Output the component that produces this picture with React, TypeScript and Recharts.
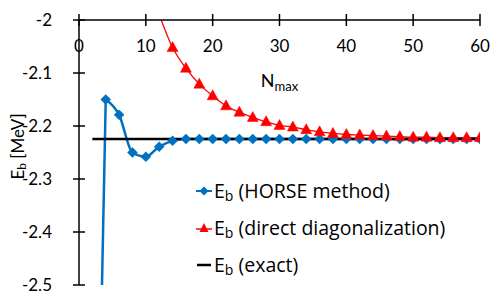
import React from 'react';
import { LineChart, Line, XAxis, YAxis, Legend, ReferenceDot } from 'recharts';

// N_max values and binding energies (MeV)
const horseLeadN = [2, 4];
const horseLeadE = [-3.4, -2.15];
const horseN = [4, 6, 8, 10, 12, 14, 16, 18, 20, 22, 24, 26, 28, 30, 32, 34, 36, 38, 40, 42, 44, 46, 48, 50, 52, 54, 56, 58, 60];
const horseE = [-2.15, -2.179, -2.25, -2.258, -2.239, -2.228, -2.2245, -2.2245, -2.2245, -2.2245, -2.2245, -2.2245, -2.2245, -2.2245, -2.2245, -2.2245, -2.2245, -2.2245, -2.2245, -2.2245, -2.2245, -2.2245, -2.2245, -2.2245, -2.2245, -2.2245, -2.2245, -2.2245, -2.2245];
const directN = [12, 14, 16, 18, 20, 22, 24, 26, 28, 30, 32, 34, 36, 38, 40, 42, 44, 46, 48, 50, 52, 54, 56, 58, 60];
const directE = [-1.99, -2.052, -2.091, -2.121, -2.143, -2.162, -2.174, -2.184, -2.192, -2.199, -2.202, -2.207, -2.211, -2.214, -2.216, -2.217, -2.218, -2.219, -2.22, -2.221, -2.221, -2.222, -2.222, -2.222, -2.222];
const exactN = [2, 60];
const exactE = [-2.2246, -2.2246];

const xTicks = [0, 10, 20, 30, 40, 50, 60];
const yTicks = [-2, -2.1, -2.2, -2.3, -2.4, -2.5];
const legendLabels = ['(HORSE method)', '(direct diagonalization)', '(exact)'];

const BLUE = '#0070C0';
const RED = '#FF0000';
const FONT = 'Lato, "Open Sans", sans-serif';
const LEGEND_FONT = '"Open Sans", Lato, sans-serif';

const zip = (ns: number[], es: number[]) => ns.map((n, i) => ({ n, e: es[i] }));
const horseLead = zip(horseLeadN, horseLeadE);
const horse = zip(horseN, horseE);
const direct = zip(directN, directE);
const exact = zip(exactN, exactE);

const Diamond = (props: any) => {
  const { cx, cy, key } = props;
  if (cx == null || cy == null) return <g key={key} />;
  return <polygon key={key} points={`${cx},${cy - 5} ${cx + 5},${cy} ${cx},${cy + 5} ${cx - 5},${cy}`} fill={BLUE} stroke={BLUE} strokeWidth={0.5} />;
};

const Triangle = (props: any) => {
  const { cx, cy, key } = props;
  if (cx == null || cy == null) return <g key={key} />;
  return <polygon key={key} points={`${cx},${cy - 6} ${cx + 5.5},${cy + 4} ${cx - 5.5},${cy + 4}`} fill={RED} stroke={RED} strokeWidth={0.5} />;
};

const XTick = (props: any) => {
  const { x, y, payload } = props;
  return (
    <g>
      <line x1={x} x2={x} y1={y - 6} y2={y + 6} stroke="#000" strokeWidth={1.5} />
      <text x={x} y={y + 32} textAnchor="middle" fontSize={17} fontFamily={FONT} fill="#000">{payload.value}</text>
    </g>
  );
};

const YTick = (props: any) => {
  const { x, y, payload } = props;
  return (
    <g>
      <line x1={x - 6} x2={x + 6} y1={y} y2={y} stroke="#000" strokeWidth={1.5} />
      <text x={x - 27} y={y + 6} textAnchor="end" fontSize={17} fontFamily={FONT} fill="#000">{String(payload.value)}</text>
    </g>
  );
};

const YLabel = (props: any) => {
  const vb = props.viewBox || {};
  const cx = (vb.x || 0) + 17;
  const cy = (vb.y || 0) + (vb.height || 0) / 2 - 6;
  return (
    <text x={cx} y={cy} transform={`rotate(-90 ${cx} ${cy})`} textAnchor="middle" dominantBaseline="central" fontSize={17} fontFamily={FONT} fill="#000">
      E<tspan fontSize={12} dy={4}>b</tspan><tspan dy={-4}> [MeV]</tspan>
    </text>
  );
};

const NmaxLabel = (props: any) => {
  const vb = props.viewBox || {};
  return (
    <text x={vb.x} y={vb.y} fontSize={18} fontFamily={FONT} fill="#000">
      N<tspan fontSize={13} dy={4}>max</tspan>
    </text>
  );
};

const legendIcons = [
  (
    <svg width={16} height={12}>
      <line x1={0} x2={16} y1={6} y2={6} stroke={BLUE} strokeWidth={2} />
      <polygon points="8,1.5 12.5,6 8,10.5 3.5,6" fill={BLUE} />
    </svg>
  ),
  (
    <svg width={16} height={12}>
      <line x1={0} x2={16} y1={7} y2={7} stroke={RED} strokeWidth={1.5} />
      <polygon points="8,1 12.5,10 3.5,10" fill={RED} />
    </svg>
  ),
  (
    <svg width={16} height={12}>
      <line x1={1} x2={15} y1={6} y2={6} stroke="#000" strokeWidth={2.5} />
    </svg>
  ),
];

const LegendContent = () => (
  <div style={{ fontFamily: LEGEND_FONT, fontSize: 19.5, color: '#000' }}>
    {legendLabels.map((lab, i) => (
      <div key={i} style={{ display: 'flex', alignItems: 'center', height: 37, whiteSpace: 'nowrap' }}>
        {legendIcons[i]}
        <span style={{ marginLeft: 2 }}>
          E<sub style={{ fontSize: 14, verticalAlign: -3, lineHeight: 0 }}>b</sub> {lab}
        </span>
      </div>
    ))}
  </div>
);

export default function App() {
  return (
    <div style={{ width: 498, height: 299, background: '#fff', fontFamily: FONT }}>
      <style>{`body{margin:0;background:#fff}`}</style>
      <LineChart width={498} height={299} margin={{ top: 10, right: 18, bottom: 14, left: 0 }}>
        <XAxis
          dataKey="n"
          type="number"
          orientation="top"
          domain={[0, 60]}
          ticks={xTicks}
          height={10}
          tickSize={0}
          tickMargin={0}
          tickLine={false}
          axisLine={{ stroke: '#000', strokeWidth: 1.5 }}
          tick={<XTick />}
          interval={0}
          allowDataOverflow
        />
        <YAxis
          type="number"
          domain={[-2.5, -2]}
          ticks={yTicks}
          width={79}
          tickSize={0}
          tickMargin={0}
          tickLine={false}
          axisLine={{ stroke: '#000', strokeWidth: 1.5 }}
          tick={<YTick />}
          interval={0}
          allowDataOverflow
          label={{ content: <YLabel /> }}
        />
        <Line data={horseLead} dataKey="e" type="linear" stroke={BLUE} strokeWidth={2.5} dot={false} activeDot={false} isAnimationActive={false} legendType="none" />
        <Line data={horse} dataKey="e" type="monotone" stroke={BLUE} strokeWidth={2.5} dot={Diamond} activeDot={false} isAnimationActive={false} />
        <Line data={direct} dataKey="e" type="monotone" stroke={RED} strokeWidth={1.3} dot={Triangle} activeDot={false} isAnimationActive={false} />
        <Line data={exact} dataKey="e" type="linear" stroke="#000" strokeWidth={2.5} dot={false} activeDot={false} isAnimationActive={false} />
        <ReferenceDot x={27.2} y={-2.1264} r={0} fill="none" stroke="none" label={{ content: <NmaxLabel /> }} />
        <Legend
          layout="vertical"
          align="center"
          verticalAlign="middle"
          content={<LegendContent />}
          wrapperStyle={{ position: 'absolute', left: 196, top: 172, width: 'auto', height: 'auto' }}
        />
      </LineChart>
    </div>
  );
}
